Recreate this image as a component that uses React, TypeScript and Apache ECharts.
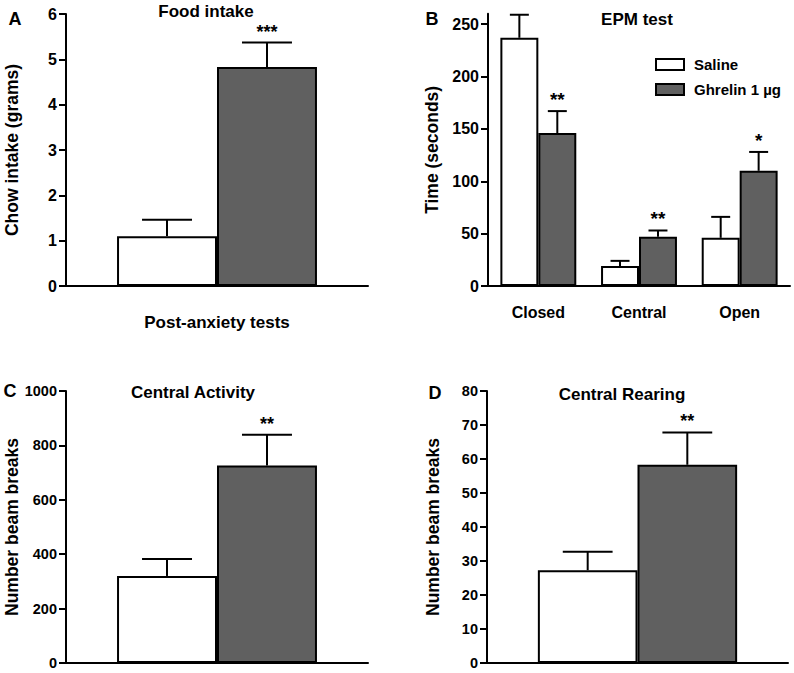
import React, { useEffect, useRef } from "react";
import * as echarts from "echarts";

// ---- Data ----
const foodCats = [""];
const foodSalineMean = [1.1];
const foodSalineUpper = [1.46];
const foodGhrelinMean = [4.83];
const foodGhrelinUpper = [5.37];
const foodSalineStars = [""];
const foodGhrelinStars = ["***"];
const foodTicks = [0, 1, 2, 3, 4, 5, 6];

const epmCats = ["Closed", "Central", "Open"];
const epmSalineMean = [237, 19, 46];
const epmSalineUpper = [259, 24, 66];
const epmGhrelinMean = [146, 47, 110];
const epmGhrelinUpper = [167, 53, 128];
const epmSalineStars = ["", "", ""];
const epmGhrelinStars = ["**", "**", "*"];
const epmTicks = [0, 50, 100, 150, 200, 250];

const actCats = [""];
const actSalineMean = [320];
const actSalineUpper = [382];
const actGhrelinMean = [726];
const actGhrelinUpper = [839];
const actSalineStars = [""];
const actGhrelinStars = ["**"];
const actTicks = [0, 200, 400, 600, 800, 1000];

const rearCats = [""];
const rearSalineMean = [27.3];
const rearSalineUpper = [32.7];
const rearGhrelinMean = [58.3];
const rearGhrelinUpper = [67.8];
const rearSalineStars = [""];
const rearGhrelinStars = ["**"];
const rearTicks = [0, 10, 20, 30, 40, 50, 60, 70, 80];

const SALINE = "Saline";
const GHRELIN = "Ghrelin 1 µg";

const FONT = "Liberation Sans, Arial, Helvetica, sans-serif";
const GRAY = "#606060";

function errorSeries(
  gi: number,
  means: number[],
  uppers: number[],
  stars: string[],
  side: number,
  frac: number,
  starSize: number
) {
  return {
    type: "custom",
    xAxisIndex: gi,
    yAxisIndex: gi,
    z: 5,
    silent: true,
    data: means.map((m, i) => [i, m, uppers[i]]),
    renderItem: (params: any, api: any) => {
      const cat = api.value(0);
      const mean = api.value(1);
      const upper = api.value(2);
      const base = api.coord([cat, mean]);
      const top = api.coord([cat, upper]);
      const band = api.size([1, 0])[0];
      const bw = band * frac;
      const x = base[0] + (side * bw) / 2;
      const capHalf = bw / 4;
      const st = { stroke: "#000", lineWidth: 2 };
      const children: any[] = [
        { type: "line", shape: { x1: x, y1: base[1], x2: x, y2: top[1] }, style: st },
        { type: "line", shape: { x1: x - capHalf, y1: top[1], x2: x + capHalf, y2: top[1] }, style: st },
      ];
      const s = stars[params.dataIndex];
      if (s) {
        children.push({
          type: "text",
          style: {
            text: s,
            x: x,
            y: top[1] - 2,
            textAlign: "center",
            textVerticalAlign: "bottom",
            fontFamily: FONT,
            fontWeight: "bold",
            fontSize: starSize,
            fill: "#000",
          },
        });
      }
      return { type: "group", children };
    },
  };
}

function barSeries(gi: number, name: string, data: number[], color: string, frac: number) {
  return {
    type: "bar",
    name,
    xAxisIndex: gi,
    yAxisIndex: gi,
    data,
    barWidth: `${frac * 100}%`,
    barGap: "0%",
    itemStyle: { color, borderColor: "#000", borderWidth: 2 },
    z: 2,
  };
}

function yAxis(
  gi: number,
  max: number,
  ticks: number[],
  name: string,
  nameGap: number,
  fontSize: number
) {
  return {
    type: "value",
    gridIndex: gi,
    min: 0,
    max,
    name,
    nameLocation: "middle",
    nameGap,
    nameTextStyle: { fontFamily: FONT, fontWeight: "bold", fontSize: 17.5, color: "#000" },
    axisLine: { show: true, lineStyle: { color: "#000", width: 2 } },
    axisTick: {
      show: true,
      length: 7,
      inside: false,
      lineStyle: { color: "#000", width: 2 },
      customValues: ticks,
    },
    axisLabel: {
      show: true,
      color: "#000",
      fontFamily: FONT,
      fontWeight: "bold",
      fontSize,
      margin: 9,
      customValues: ticks,
      formatter: (v: number) => String(v),
    },
    splitLine: { show: false },
  };
}

function xAxis(gi: number, cats: string[], showLabel: boolean, name?: string) {
  return {
    type: "category",
    gridIndex: gi,
    data: cats,
    name: name || "",
    nameLocation: "middle",
    nameGap: 28,
    nameTextStyle: { fontFamily: FONT, fontWeight: "bold", fontSize: 17, color: "#000" },
    axisLine: { show: true, lineStyle: { color: "#000", width: 2 } },
    axisTick: { show: false },
    axisLabel: {
      show: showLabel,
      color: "#000",
      fontFamily: FONT,
      fontWeight: "bold",
      fontSize: 16,
      margin: 18,
    },
    splitLine: { show: false },
  };
}

function txt(text: string, x: number, y: number, size: number) {
  return {
    type: "text",
    x,
    y,
    style: {
      text,
      textAlign: "center",
      textVerticalAlign: "middle",
      fontFamily: FONT,
      fontWeight: "bold",
      fontSize: size,
      fill: "#000",
    },
  };
}

export default function App() {
  const ref = useRef<HTMLDivElement>(null);
  useEffect(() => {
    document.body.style.margin = "0";
    if (!ref.current) return;
    const chart = echarts.init(ref.current, null, { renderer: "svg" });
    const fA = 0.331;
    const fB = 0.377;
    const option: any = {
      animation: false,
      backgroundColor: "#fff",
      grid: [
        { left: 66, top: 14, width: 302, height: 272 },
        { left: 488, top: 13.7, width: 302, height: 272.3 },
        { left: 66, top: 391, width: 302, height: 272 },
        { left: 487, top: 391, width: 301, height: 272 },
      ],
      xAxis: [
        xAxis(0, foodCats, false, "Post-anxiety tests"),
        xAxis(1, epmCats, true),
        xAxis(2, actCats, false),
        xAxis(3, rearCats, false),
      ],
      yAxis: [
        yAxis(0, 6, foodTicks, "Chow intake (grams)", 45, 16),
        yAxis(1, 260, epmTicks, "Time (seconds)", 47, 16),
        yAxis(2, 1000, actTicks, "Number beam breaks", 45, 14.5),
        yAxis(3, 80, rearTicks, "Number beam breaks", 45, 14.5),
      ],
      legend: {
        show: true,
        data: [SALINE, GHRELIN],
        left: 655,
        top: 57,
        padding: 0,
        orient: "vertical",
        itemWidth: 28,
        itemHeight: 11,
        itemGap: 10,
        icon: "rect",
        selectedMode: false,
        itemStyle: { borderColor: "#000", borderWidth: 2 },
        textStyle: { fontFamily: FONT, fontWeight: "bold", fontSize: 15, color: "#000", padding: [0, 0, 0, 5] },
      },
      graphic: [
        txt("A", 15, 19, 18),
        txt("B", 432, 19, 18),
        txt("C", 10, 391, 18),
        txt("D", 435, 393, 18),
        txt("Food intake", 206, 11, 17),
        txt("EPM test", 637, 19, 17),
        txt("Central Activity", 193, 392, 17),
        txt("Central Rearing", 622, 394, 17),
      ],
      series: [
        barSeries(0, SALINE, foodSalineMean, "#ffffff", fA),
        barSeries(0, GHRELIN, foodGhrelinMean, GRAY, fA),
        errorSeries(0, foodSalineMean, foodSalineUpper, foodSalineStars, -1, fA, 18),
        errorSeries(0, foodGhrelinMean, foodGhrelinUpper, foodGhrelinStars, 1, fA, 18),

        barSeries(1, SALINE, epmSalineMean, "#ffffff", fB),
        barSeries(1, GHRELIN, epmGhrelinMean, GRAY, fB),
        errorSeries(1, epmSalineMean, epmSalineUpper, epmSalineStars, -1, fB, 19),
        errorSeries(1, epmGhrelinMean, epmGhrelinUpper, epmGhrelinStars, 1, fB, 19),

        barSeries(2, SALINE, actSalineMean, "#ffffff", fA),
        barSeries(2, GHRELIN, actGhrelinMean, GRAY, fA),
        errorSeries(2, actSalineMean, actSalineUpper, actSalineStars, -1, fA, 18),
        errorSeries(2, actGhrelinMean, actGhrelinUpper, actGhrelinStars, 1, fA, 18),

        barSeries(3, SALINE, rearSalineMean, "#ffffff", fA),
        barSeries(3, GHRELIN, rearGhrelinMean, GRAY, fA),
        errorSeries(3, rearSalineMean, rearSalineUpper, rearSalineStars, -1, fA, 18),
        errorSeries(3, rearGhrelinMean, rearGhrelinUpper, rearGhrelinStars, 1, fA, 18),
      ],
    };
    chart.setOption(option);
    return () => chart.dispose();
  }, []);
  return <div ref={ref} style={{ width: 794, height: 673 }} />;
}
